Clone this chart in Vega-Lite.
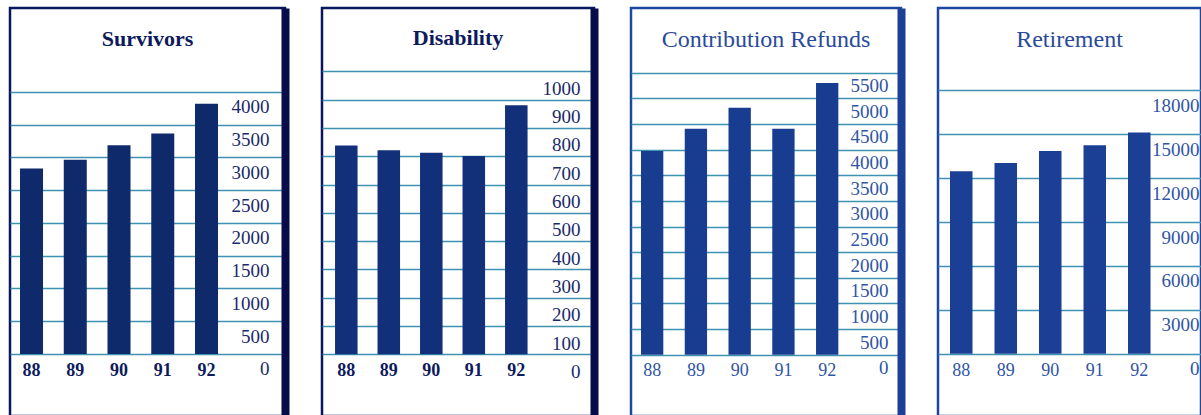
{
  "$schema": "https://vega.github.io/schema/vega-lite/v6.json",
  "background": "white",
  "padding": {"left": 8, "top": 6, "right": 0, "bottom": 0},
  "spacing": 33,
  "hconcat": [
    {
      "width": 275, "height": 408,
      "view": {"stroke": "#0b1660", "strokeWidth": 2.5},
      "title": {"text": "Survivors", "offset": -53, "baseline": "middle", "anchor": "middle", "font": "Liberation Serif", "fontSize": 22, "fontWeight": "bold", "color": "#0d1a5c"},
      "data": {"values": [
        {"year": "88", "value": 2830},
        {"year": "89", "value": 2965},
        {"year": "90", "value": 3185},
        {"year": "91", "value": 3365},
        {"year": "92", "value": 3820}
      ]},
      "mark": {"type": "bar", "color": "#0f2a6b"},
      "encoding": {
        "x": {"field": "year", "type": "nominal", "sort": null,
          "scale": {"paddingInner": 0.474, "paddingOuter": 0.88, "align": 0.13},
          "axis": {"title": null, "orient": "bottom", "offset": -46, "domain": false, "ticks": false, "labelPadding": 0, "labelBaseline": "middle", "labelAngle": 0, "labelFont": "Liberation Serif", "labelFontSize": 18, "labelFontWeight": "bold", "labelColor": "#0d1a5c", "grid": false}},
        "y": {"field": "value", "type": "quantitative",
          "scale": {"domain": [-947, 5282], "nice": false, "zero": false},
          "axis": {"orient": "right", "title": null, "format": "d", "values": [0, 500, 1000, 1500, 2000, 2500, 3000, 3500, 4000], "grid": true, "gridColor": "#3f92b0", "gridWidth": 1.5, "ticks": false, "tickSize": 0, "domain": true, "domainColor": "#070c4a", "domainWidth": 8, "labelAlign": "right", "labelPadding": -16, "labelOffset": 15, "labelBaseline": "middle", "labelFont": "Liberation Serif", "labelFontSize": 19, "labelColor": "#1a2a6a", "labelOverlap": false, "labelFlush": false, "labelBound": false}}
      }
    },
    {
      "width": 272, "height": 408,
      "view": {"stroke": "#0b1660", "strokeWidth": 2.5},
      "title": {"text": "Disability", "offset": -52, "baseline": "middle", "anchor": "middle", "font": "Liberation Serif", "fontSize": 22, "fontWeight": "bold", "color": "#0d1a5c"},
      "data": {"values": [
        {"year": "88", "value": 738},
        {"year": "89", "value": 721},
        {"year": "90", "value": 712},
        {"year": "91", "value": 701},
        {"year": "92", "value": 880}
      ]},
      "mark": {"type": "bar", "color": "#12307a"},
      "encoding": {
        "x": {"field": "year", "type": "nominal", "sort": null,
          "scale": {"paddingInner": 0.47, "paddingOuter": 0.935, "align": 0.164},
          "axis": {"title": null, "orient": "bottom", "offset": -46, "domain": false, "ticks": false, "labelPadding": 0, "labelBaseline": "middle", "labelAngle": 0, "labelFont": "Liberation Serif", "labelFontSize": 18, "labelFontWeight": "bold", "labelColor": "#0d1a5c", "grid": false}},
        "y": {"field": "value", "type": "quantitative",
          "scale": {"domain": [-218, 1224], "nice": false, "zero": false},
          "axis": {"orient": "right", "title": null, "format": "d", "values": [0, 100, 200, 300, 400, 500, 600, 700, 800, 900, 1000], "grid": true, "gridColor": "#3f92b0", "gridWidth": 1.5, "ticks": false, "tickSize": 0, "domain": true, "domainColor": "#070c4a", "domainWidth": 8, "labelAlign": "right", "labelPadding": -14, "labelOffset": 17, "labelBaseline": "middle", "labelFont": "Liberation Serif", "labelFontSize": 19, "labelColor": "#1a2a6a", "labelOverlap": false, "labelFlush": false, "labelBound": false}}
      }
    },
    {
      "width": 270, "height": 408,
      "view": {"stroke": "#1f47a0", "strokeWidth": 2.5},
      "title": {"text": "Contribution Refunds", "offset": -56, "baseline": "middle", "anchor": "middle", "font": "Liberation Serif", "fontSize": 24, "fontWeight": "normal", "color": "#2a4a9a"},
      "data": {"values": [
        {"year": "88", "value": 3972},
        {"year": "89", "value": 4407},
        {"year": "90", "value": 4817},
        {"year": "91", "value": 4407},
        {"year": "92", "value": 5298}
      ]},
      "mark": {"type": "bar", "color": "#183c90"},
      "encoding": {
        "x": {"field": "year", "type": "nominal", "sort": null,
          "scale": {"paddingInner": 0.49, "paddingOuter": 0.83, "align": 0.1375},
          "axis": {"title": null, "orient": "bottom", "offset": -46, "domain": false, "ticks": false, "labelPadding": 0, "labelBaseline": "middle", "labelAngle": 0, "labelFont": "Liberation Serif", "labelFontSize": 18, "labelFontWeight": "normal", "labelColor": "#2f55a5", "grid": false}},
        "y": {"field": "value", "type": "quantitative",
          "scale": {"domain": [-1196, 6762], "nice": false, "zero": false},
          "axis": {"orient": "right", "title": null, "format": "d", "values": [0, 500, 1000, 1500, 2000, 2500, 3000, 3500, 4000, 4500, 5000, 5500], "grid": true, "gridColor": "#3f92b0", "gridWidth": 1.5, "ticks": false, "tickSize": 0, "domain": true, "domainColor": "#1c3f98", "domainWidth": 8, "labelAlign": "right", "labelPadding": -13, "labelOffset": 13, "labelBaseline": "middle", "labelFont": "Liberation Serif", "labelFontSize": 19, "labelColor": "#2f55a5", "labelOverlap": false, "labelFlush": false, "labelBound": false}}
      }
    },
    {
      "width": 263, "height": 408,
      "view": {"stroke": "#1f47a0", "strokeWidth": 2.5},
      "title": {"text": "Retirement", "offset": -56, "baseline": "middle", "anchor": "middle", "font": "Liberation Serif", "fontSize": 24, "fontWeight": "normal", "color": "#2a4a9a"},
      "data": {"values": [
        {"year": "88", "value": 12465},
        {"year": "89", "value": 13032},
        {"year": "90", "value": 13852},
        {"year": "91", "value": 14241},
        {"year": "92", "value": 15109}
      ]},
      "mark": {"type": "bar", "color": "#1b3f94"},
      "encoding": {
        "x": {"field": "year", "type": "nominal", "sort": null,
          "scale": {"paddingInner": 0.494, "paddingOuter": 0.702, "align": 0.192},
          "axis": {"title": null, "orient": "bottom", "offset": -46, "domain": false, "ticks": false, "labelPadding": 0, "labelBaseline": "middle", "labelAngle": 0, "labelFont": "Liberation Serif", "labelFontSize": 18, "labelFontWeight": "normal", "labelColor": "#2f55a5", "grid": false}},
        "y": {"field": "value", "type": "quantitative",
          "scale": {"domain": [-4257, 23624], "nice": false, "zero": false},
          "axis": {"orient": "right", "title": null, "format": "d", "values": [0, 3000, 6000, 9000, 12000, 15000, 18000], "grid": true, "gridColor": "#3f92b0", "gridWidth": 1.5, "ticks": false, "tickSize": 0, "domain": false, "labelAlign": "right", "labelPadding": -2, "labelOffset": 15, "labelBaseline": "middle", "labelFont": "Liberation Serif", "labelFontSize": 19, "labelColor": "#2f55a5", "labelOverlap": false, "labelFlush": false, "labelBound": false}}
      }
    }
  ]
}
